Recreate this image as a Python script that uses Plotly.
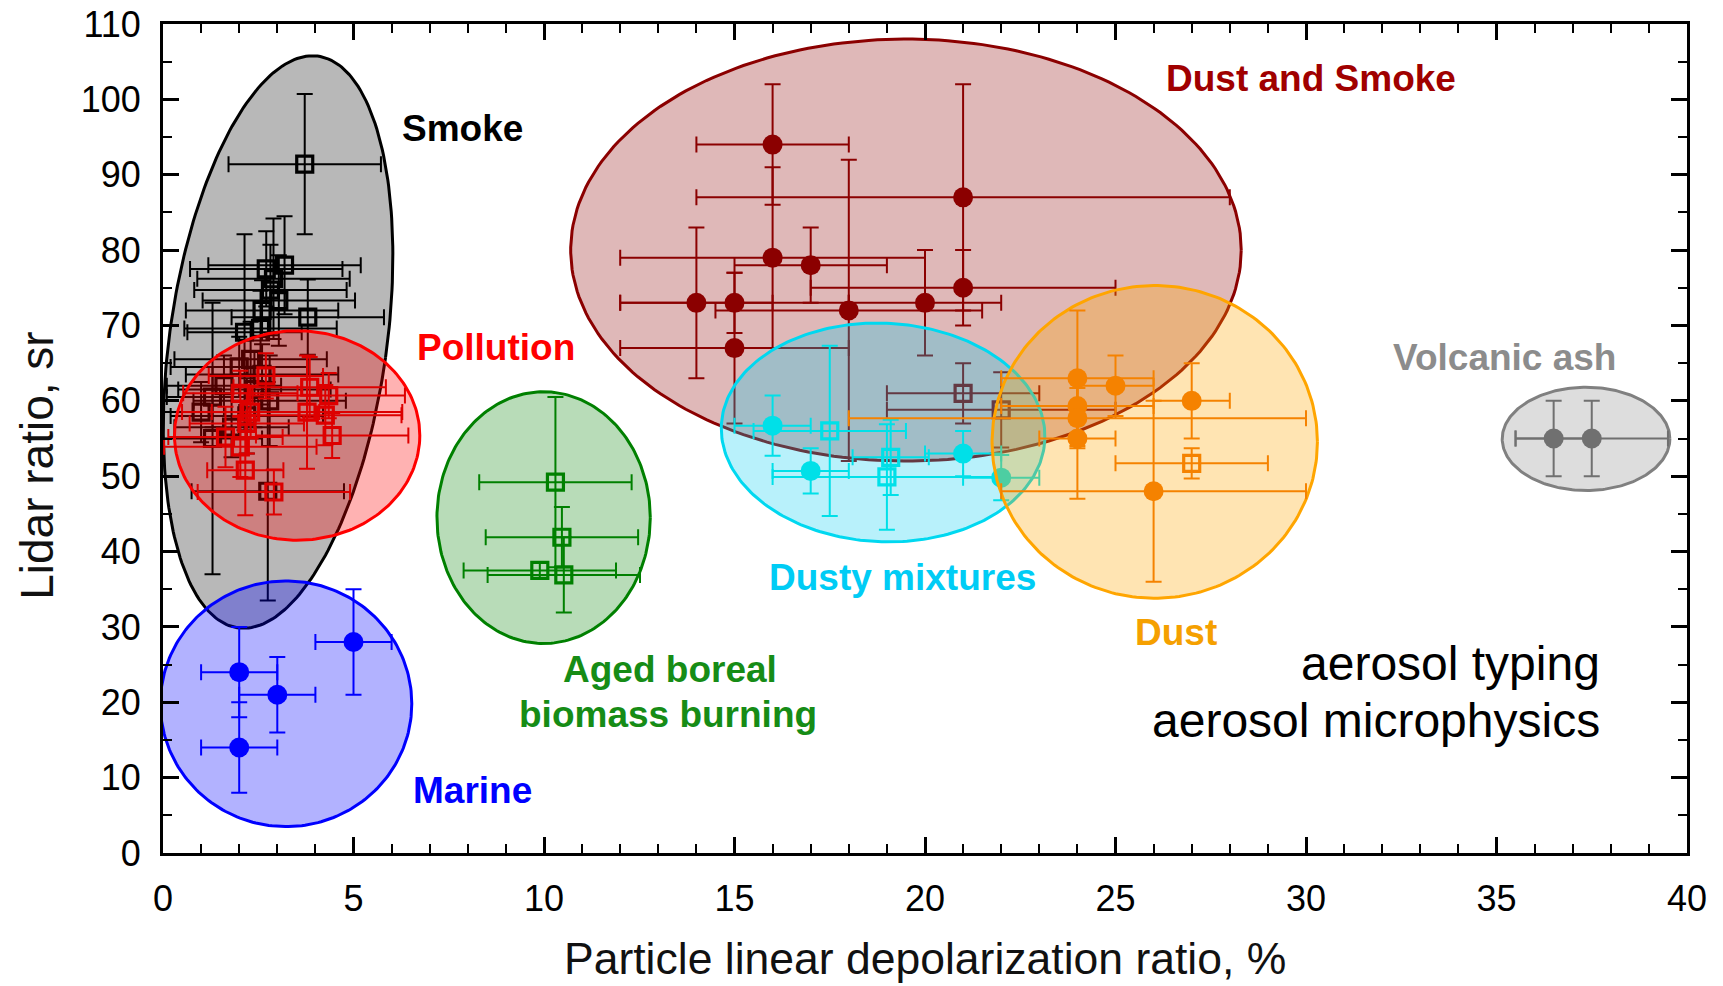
import numpy as np
import plotly.graph_objects as go

# ---------------- data ----------------
# Smoke (open squares)
smoke_x = [3.72, 3.19, 2.71, 2.90, 2.82, 3.04, 3.80, 2.60, 2.14, 2.56, 2.30, 2.00, 2.60, 1.60, 2.40, 1.30, 2.80, 1.00, 2.20, 1.30, 2.75, 1.80]
smoke_y = [91.4, 78.0, 77.5, 76.2, 74.7, 73.3, 71.1, 72.0, 69.1, 69.6, 65.5, 64.5, 63.5, 62.0, 61.5, 60.5, 60.0, 58.5, 58.0, 55.0, 48.0, 56.5]
smoke_xerr = [2.0, 2.0, 2.0, 2.0, 2.0, 2.0, 2.0, 2.0, 1.5, 2.0, 2.0, 1.8, 2.0, 1.5, 2.0, 1.2, 2.0, 1.0, 2.0, 1.3, 2.0, 1.5]
smoke_yerr = [9.3, 6.5, 5.0, 8.0, 6.0, 6.0, 5.0, 4.0, 13.0, 5.0, 5.0, 4.0, 4.0, 4.0, 5.0, 4.0, 6.0, 4.0, 5.0, 18.0, 14.5, 4.0]

# Pollution (open squares)
poll_x = [3.85, 4.35, 3.78, 4.26, 4.44, 1.64, 2.03, 2.16, 2.91, 2.03, 2.30, 2.70, 2.20]
poll_y = [61.8, 60.7, 58.5, 58.1, 55.4, 55.2, 53.9, 50.8, 47.9, 61.0, 58.5, 63.3, 57.0]
poll_xerr = [2.0, 2.0, 2.5, 2.0, 2.0, 1.5, 2.0, 1.0, 2.0, 1.5, 1.8, 1.5, 1.5]
poll_yerr = [4.0, 3.0, 7.5, 4.0, 3.0, 4.0, 4.0, 6.0, 3.0, 3.0, 3.5, 3.0, 4.0]

# Marine (filled circles)
marine_x = [2.0, 3.0, 5.0, 2.0]
marine_y = [24.0, 21.0, 28.0, 14.0]
marine_xerr = [1.0, 1.0, 1.0, 1.0]
marine_yerr = [6.0, 5.0, 7.0, 6.0]

# Aged boreal biomass burning (open squares)
boreal_x = [10.30, 10.47, 9.89, 10.52]
boreal_y = [49.2, 41.9, 37.5, 36.9]
boreal_xerr = [2.0, 2.0, 2.0, 2.0]
boreal_yerr = [11.3, 4.0, 1.0, 5.0]

# Dust and smoke (filled circles + open squares)
ds_x = [16.0, 21.0, 16.0, 17.0, 21.0, 14.0, 15.0, 18.0, 20.0, 15.0]
ds_y = [94.0, 87.0, 79.0, 78.0, 75.0, 73.0, 73.0, 72.0, 73.0, 67.0]
ds_xerr = [2.0, 7.0, 4.0, 2.0, 4.0, 2.0, 3.0, 3.5, 2.0, 3.0]
ds_yerr = [8.0, 15.0, 12.0, 5.0, 5.0, 10.0, 4.0, 20.0, 7.0, 10.0]
ds_sq_x = [21.0, 22.0]
ds_sq_y = [61.0, 58.8]
ds_sq_xerr = [2.0, 3.0]
ds_sq_yerr = [4.0, 5.0]

# Dusty mixtures (filled circles + open squares)
dm_x = [16.0, 17.0, 21.0, 22.0]
dm_y = [56.7, 50.7, 53.0, 49.8]
dm_xerr = [1.0, 1.0, 1.0, 1.0]
dm_yerr = [4.0, 3.0, 3.0, 3.0]
dm_sq_x = [17.5, 19.1, 19.0]
dm_sq_y = [56.0, 52.5, 49.9]
dm_sq_xerr = [2.0, 1.0, 3.0]
dm_sq_yerr = [11.3, 5.0, 7.0]

# Dust (filled circles + open square)
dust_x = [24.0, 25.0, 24.0, 24.0, 24.0, 27.0, 26.0]
dust_y = [63.0, 62.0, 59.3, 57.7, 55.0, 60.0, 48.0]
dust_xerr = [2.0, 1.0, 2.0, 6.0, 1.0, 1.0, 4.0]
dust_yerr = [9.0, 4.0, 4.0, 4.0, 8.0, 5.0, 12.0]
dust_sq_x = [27.0]
dust_sq_y = [51.7]
dust_sq_xerr = [2.0]
dust_sq_yerr = [2.0]

# Volcanic ash (filled circles)
va_x = [36.5, 37.5]
va_y = [55.0, 55.0]
va_xerr = [1.0, 2.0]
va_yerr = [5.0, 5.0]

# Region ellipses
region_names = ["Smoke", "Pollution", "Marine", "Aged boreal", "Dust and Smoke", "Dusty mixtures", "Dust", "Volcanic ash"]
region_cx = [3.02, 3.52, 3.23, 9.99, 19.5, 18.9, 26.03, 37.35]
region_cy = [67.8, 55.4, 19.8, 44.5, 80.0, 55.8, 54.55, 54.95]
region_rx = [2.85, 3.22, 3.30, 2.80, 8.8, 4.25, 4.27, 2.20]
region_ry = [38.3, 13.9, 16.3, 16.7, 28.0, 14.5, 20.75, 6.85]
region_tilt = [8.0, 0, 0, 0, 0, 2.5, 0, 0]

# ---------------- layout constants ----------------
W, H = 1723, 986
ML, MR, MT, MB = 163, 36, 24, 133
XR = (0, 40)
YR = (0, 110)
SX = (W - ML - MR) / (XR[1] - XR[0])
SY = (H - MT - MB) / (YR[1] - YR[0])
FONT = "Liberation Sans, Arial, sans-serif"


def ellipse(cx, cy, rx, ry, tilt_deg, n=240):
    t = np.linspace(0, 2 * np.pi, n)
    u = rx * SX * np.cos(t)
    v = ry * SY * np.sin(t)
    p = np.radians(tilt_deg)
    xp = u * np.cos(p) + v * np.sin(p)
    yp = -u * np.sin(p) + v * np.cos(p)
    return cx + xp / SX, cy + yp / SY


region_fill = ["rgba(160,160,160,0.75)", "rgba(255,0,0,0.30)", "rgba(0,0,255,0.30)",
               "rgba(0,128,0,0.28)", "rgba(139,0,0,0.28)", "rgba(0,205,240,0.28)",
               "rgba(255,165,0,0.30)", "rgba(128,128,128,0.27)"]
region_line = ["black", "#FF0000", "#0000FF", "#008000", "#8B0000", "#00D8F0", "#FFA500", "#808080"]

fig = go.Figure()


def add_region(i):
    ex, ey = ellipse(region_cx[i], region_cy[i], region_rx[i], region_ry[i], region_tilt[i])
    fig.add_trace(go.Scatter(x=ex, y=ey, mode="lines", fill="toself",
                             fillcolor=region_fill[i], line=dict(color=region_line[i], width=3),
                             hoverinfo="skip", name=region_names[i]))


def add_points(x, y, xe, ye, color, symbol):
    if symbol == "circle":
        marker = dict(symbol="circle", size=20, color=color, line=dict(width=0))
    else:
        marker = dict(symbol="square-open", size=16, color=color, line=dict(width=3.2))
    fig.add_trace(go.Scatter(
        x=x, y=y, mode="markers", marker=marker,
        error_x=dict(type="data", array=xe, color=color, thickness=2, width=8),
        error_y=dict(type="data", array=ye, color=color, thickness=2, width=8),
        hoverinfo="x+y"))


add_region(0)
add_points(smoke_x, smoke_y, smoke_xerr, smoke_yerr, "black", "square")
add_region(1)
add_points(poll_x, poll_y, poll_xerr, poll_yerr, "#DD0000", "square")
add_region(2)
add_points(marine_x, marine_y, marine_xerr, marine_yerr, "#0000FF", "circle")
add_region(3)
add_points(boreal_x, boreal_y, boreal_xerr, boreal_yerr, "#008000", "square")
add_region(4)
add_points(ds_x, ds_y, ds_xerr, ds_yerr, "#8B0000", "circle")
add_points(ds_sq_x, ds_sq_y, ds_sq_xerr, ds_sq_yerr, "#8B0000", "square")
add_region(5)
add_points(dm_x, dm_y, dm_xerr, dm_yerr, "#00E0E8", "circle")
add_points(dm_sq_x, dm_sq_y, dm_sq_xerr, dm_sq_yerr, "#00E0E8", "square")
add_region(6)
add_points(dust_x, dust_y, dust_xerr, dust_yerr, "#F58200", "circle")
add_points(dust_sq_x, dust_sq_y, dust_sq_xerr, dust_sq_yerr, "#F58200", "square")
add_region(7)
add_points(va_x, va_y, va_xerr, va_yerr, "#707070", "circle")

# ---------------- labels ----------------
labels = [
    ("Smoke", 7.87, 96.2, "black"),
    ("Pollution", 8.75, 67.1, "#FF0000"),
    ("Dust and Smoke", 30.14, 102.8, "#A00000"),
    ("Volcanic ash", 35.2, 65.8, "#8C8C8C"),
    ("Dusty mixtures", 19.41, 36.6, "#00CCF5"),
    ("Dust", 26.6, 29.3, "#F5A000"),
    ("Aged boreal", 13.31, 24.35, "#168C16"),
    ("biomass burning", 13.25, 18.37, "#168C16"),
    ("Marine", 8.13, 8.3, "#0000FF"),
]
for txt, lx, ly, col in labels:
    fig.add_annotation(x=lx, y=ly, xref="x", yref="y", text="<b>" + txt + "</b>",
                       showarrow=False, xanchor="center", yanchor="middle",
                       font=dict(family=FONT, size=37, color=col))

for txt, ly in [("aerosol typing", 25.2), ("aerosol microphysics", 17.6)]:
    fig.add_annotation(x=37.76, y=ly, xref="x", yref="y", text=txt, showarrow=False,
                       xanchor="right", yanchor="middle",
                       font=dict(family=FONT, size=48, color="black"))

# axis titles
fig.add_annotation(x=0.5, y=-0.127, xref="paper", yref="paper",
                   text="Particle linear depolarization ratio, %", showarrow=False,
                   xanchor="center", yanchor="middle",
                   font=dict(family=FONT, size=44.5, color="#111111"))
fig.add_annotation(x=-0.0827, y=0.467, xref="paper", yref="paper",
                   text="Lidar ratio, sr", showarrow=False, textangle=-90,
                   xanchor="center", yanchor="middle",
                   font=dict(family=FONT, size=46, color="#111111"))

axis_common = dict(showline=True, linewidth=3, linecolor="black", mirror="allticks",
                   ticks="inside", ticklen=16, tickwidth=2.5, tickcolor="black",
                   showgrid=False, zeroline=False, ticklabeloverflow="allow",
                   tickfont=dict(family=FONT, size=36, color="black"))

fig.update_layout(
    width=W, height=H,
    margin=dict(l=ML, r=MR, t=MT, b=MB, autoexpand=False),
    paper_bgcolor="white", plot_bgcolor="white",
    showlegend=False,
    xaxis=dict(range=list(XR), dtick=5, tick0=0, ticklabelstandoff=12,
               minor=dict(ticks="inside", ticklen=9, tickwidth=2, dtick=1, tickcolor="black", showgrid=False),
               **axis_common),
    yaxis=dict(range=list(YR), dtick=10, tick0=0, ticklabelstandoff=12,
               minor=dict(ticks="inside", ticklen=9, tickwidth=2, dtick=5, tickcolor="black", showgrid=False),
               **axis_common),
)

# remove the default 8px page margin so the figure fills the window exactly
fig.write_html("out.html", config={"displayModeBar": False},
               post_script="document.body.style.margin='0';document.body.style.overflow='hidden';")
